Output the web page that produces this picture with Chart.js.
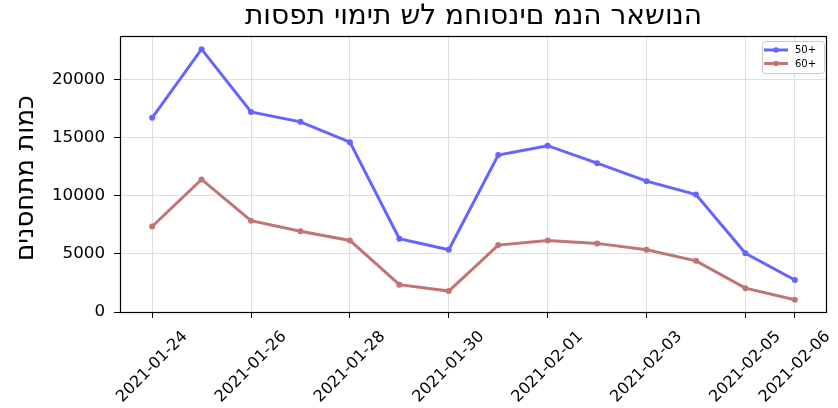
<!DOCTYPE html>
<html>
<head>
<meta charset="utf-8">
<script src="https://cdn.jsdelivr.net/npm/chart.js@4.4.1/dist/chart.umd.min.js"></script>
<style>
html,body{margin:0;padding:0;background:#fff;}
#wrap{width:838px;height:408px;}
</style>
</head>
<body>
<div id="wrap"><canvas id="c" width="838" height="408"></canvas></div>
<script>
const dates = ["2021-01-24","2021-01-25","2021-01-26","2021-01-27","2021-01-28","2021-01-29","2021-01-30","2021-01-31","2021-02-01","2021-02-02","2021-02-03","2021-02-04","2021-02-05","2021-02-06"];
const series50 = [16700, 22600, 17200, 16350, 14600, 6300, 5350, 13500, 14300, 12800, 11250, 10100, 5050, 2750];
const series60 = [7350, 11400, 7850, 6950, 6150, 2350, 1800, 5750, 6150, 5900, 5350, 4400, 2050, 1050];
const xTickDates = ["2021-01-24","2021-01-26","2021-01-28","2021-01-30","2021-02-01","2021-02-03","2021-02-05","2021-02-06"];
const yTicks = [0, 5000, 10000, 15000, 20000];
const seriesNames = ["50+", "60+"];
const titleText = "תוספת יומית של מחוסנים מנה ראשונה";
const yTitle = "כמות מתחסנים";

const BLUE = "rgb(100,100,255)";
const RED = "rgb(192,116,116)";
const FONT = "'DejaVu Sans', sans-serif";

const toPts = arr => arr.map((v, i) => ({x: i, y: v}));
const xTickIdx = xTickDates.map(d => dates.indexOf(d));

const framePlugin = {
  id: 'frame',
  afterDraw(chart) {
    const ctx = chart.ctx;
    const a = chart.chartArea;
    const xs = chart.scales.x;
    ctx.save();
    ctx.font = "16px " + FONT;
    ctx.fillStyle = "#000";
    ctx.textAlign = "center";
    ctx.textBaseline = "middle";
    xTickIdx.forEach((idx, k) => {
      const px = xs.getPixelForValue(idx);
      ctx.save();
      ctx.translate(px, 367);
      ctx.rotate(-Math.PI / 4);
      ctx.fillText(xTickDates[k], 0, 0);
      ctx.restore();
    });
    ctx.restore();
    ctx.save();
    ctx.strokeStyle = "#000";
    ctx.lineWidth = 1.2;
    ctx.strokeRect(Math.round(a.left) + 0.5, Math.round(a.top) + 0.5, Math.round(a.right - a.left) - 1, Math.round(a.bottom - a.top));
    ctx.restore();
    ctx.save();
    const bx = 762, by = 41, bw = 62, bh = 32;
    ctx.fillStyle = "rgba(255,255,255,0.85)";
    ctx.strokeStyle = "#cccccc";
    ctx.lineWidth = 1;
    ctx.beginPath();
    ctx.roundRect(bx + 0.5, by + 0.5, bw, bh, 3);
    ctx.fill();
    ctx.stroke();
    const rows = [[BLUE, seriesNames[0], 50], [RED, seriesNames[1], 63.5]];
    ctx.font = "10px " + FONT;
    ctx.textAlign = "left";
    ctx.textBaseline = "middle";
    rows.forEach(([col, name, y]) => {
      ctx.strokeStyle = col;
      ctx.lineWidth = 3;
      ctx.beginPath();
      ctx.moveTo(764, y);
      ctx.lineTo(788, y);
      ctx.stroke();
      ctx.fillStyle = col;
      ctx.beginPath();
      ctx.arc(776, y, 2.8, 0, Math.PI * 2);
      ctx.fill();
      ctx.fillStyle = "#000";
      ctx.fillText(name, 795, y + 0.5);
    });
    ctx.restore();
  }
};

new Chart(document.getElementById('c'), {
  type: 'line',
  data: {
    datasets: [
      {label: seriesNames[0], data: toPts(series50), borderColor: BLUE, backgroundColor: BLUE, borderWidth: 3, pointRadius: 3, pointBorderWidth: 0, pointBackgroundColor: BLUE, tension: 0},
      {label: seriesNames[1], data: toPts(series60), borderColor: RED, backgroundColor: RED, borderWidth: 3, pointRadius: 3, pointBorderWidth: 0, pointBackgroundColor: RED, tension: 0}
    ]
  },
  options: {
    responsive: false,
    animation: false,
    events: [],
    layout: {padding: {left: 0, right: 11, top: 0, bottom: 0}},
    plugins: {
      legend: {display: false},
      tooltip: {enabled: false},
      title: {
        display: true,
        text: "\u202D" + titleText + "\u202C",
        fullSize: false,
        color: "#000",
        font: {family: FONT, size: 28, weight: 'normal', lineHeight: 1.0},
        padding: {top: 3, bottom: 5}
      }
    },
    scales: {
      x: {
        type: 'linear',
        min: -0.65,
        max: 13.65,
        afterBuildTicks: s => { s.ticks = xTickIdx.map(v => ({value: v})); },
        afterFit: s => { s.height = 96; },
        ticks: {display: false},
        grid: {color: "#dedede", lineWidth: 1, tickColor: "#000", tickLength: 6, drawTicks: true},
        border: {display: false}
      },
      y: {
        type: 'linear',
        min: 0,
        max: 23730,
        afterBuildTicks: s => { s.ticks = yTicks.map(v => ({value: v})); },
        afterFit: s => { s.width = 120; },
        ticks: {color: "#000", font: {family: FONT, size: 16.7}, padding: 9, callback: v => String(v)},
        grid: {color: "#dedede", lineWidth: 1, tickColor: "#000", tickLength: 6, drawTicks: true},
        border: {display: false},
        title: {display: true, text: yTitle + " ", color: "#000", font: {family: FONT, size: 26, lineHeight: 1.2}, padding: {top: 11, bottom: 0}}
      }
    }
  },
  plugins: [framePlugin]
});
</script>
</body>
</html>
